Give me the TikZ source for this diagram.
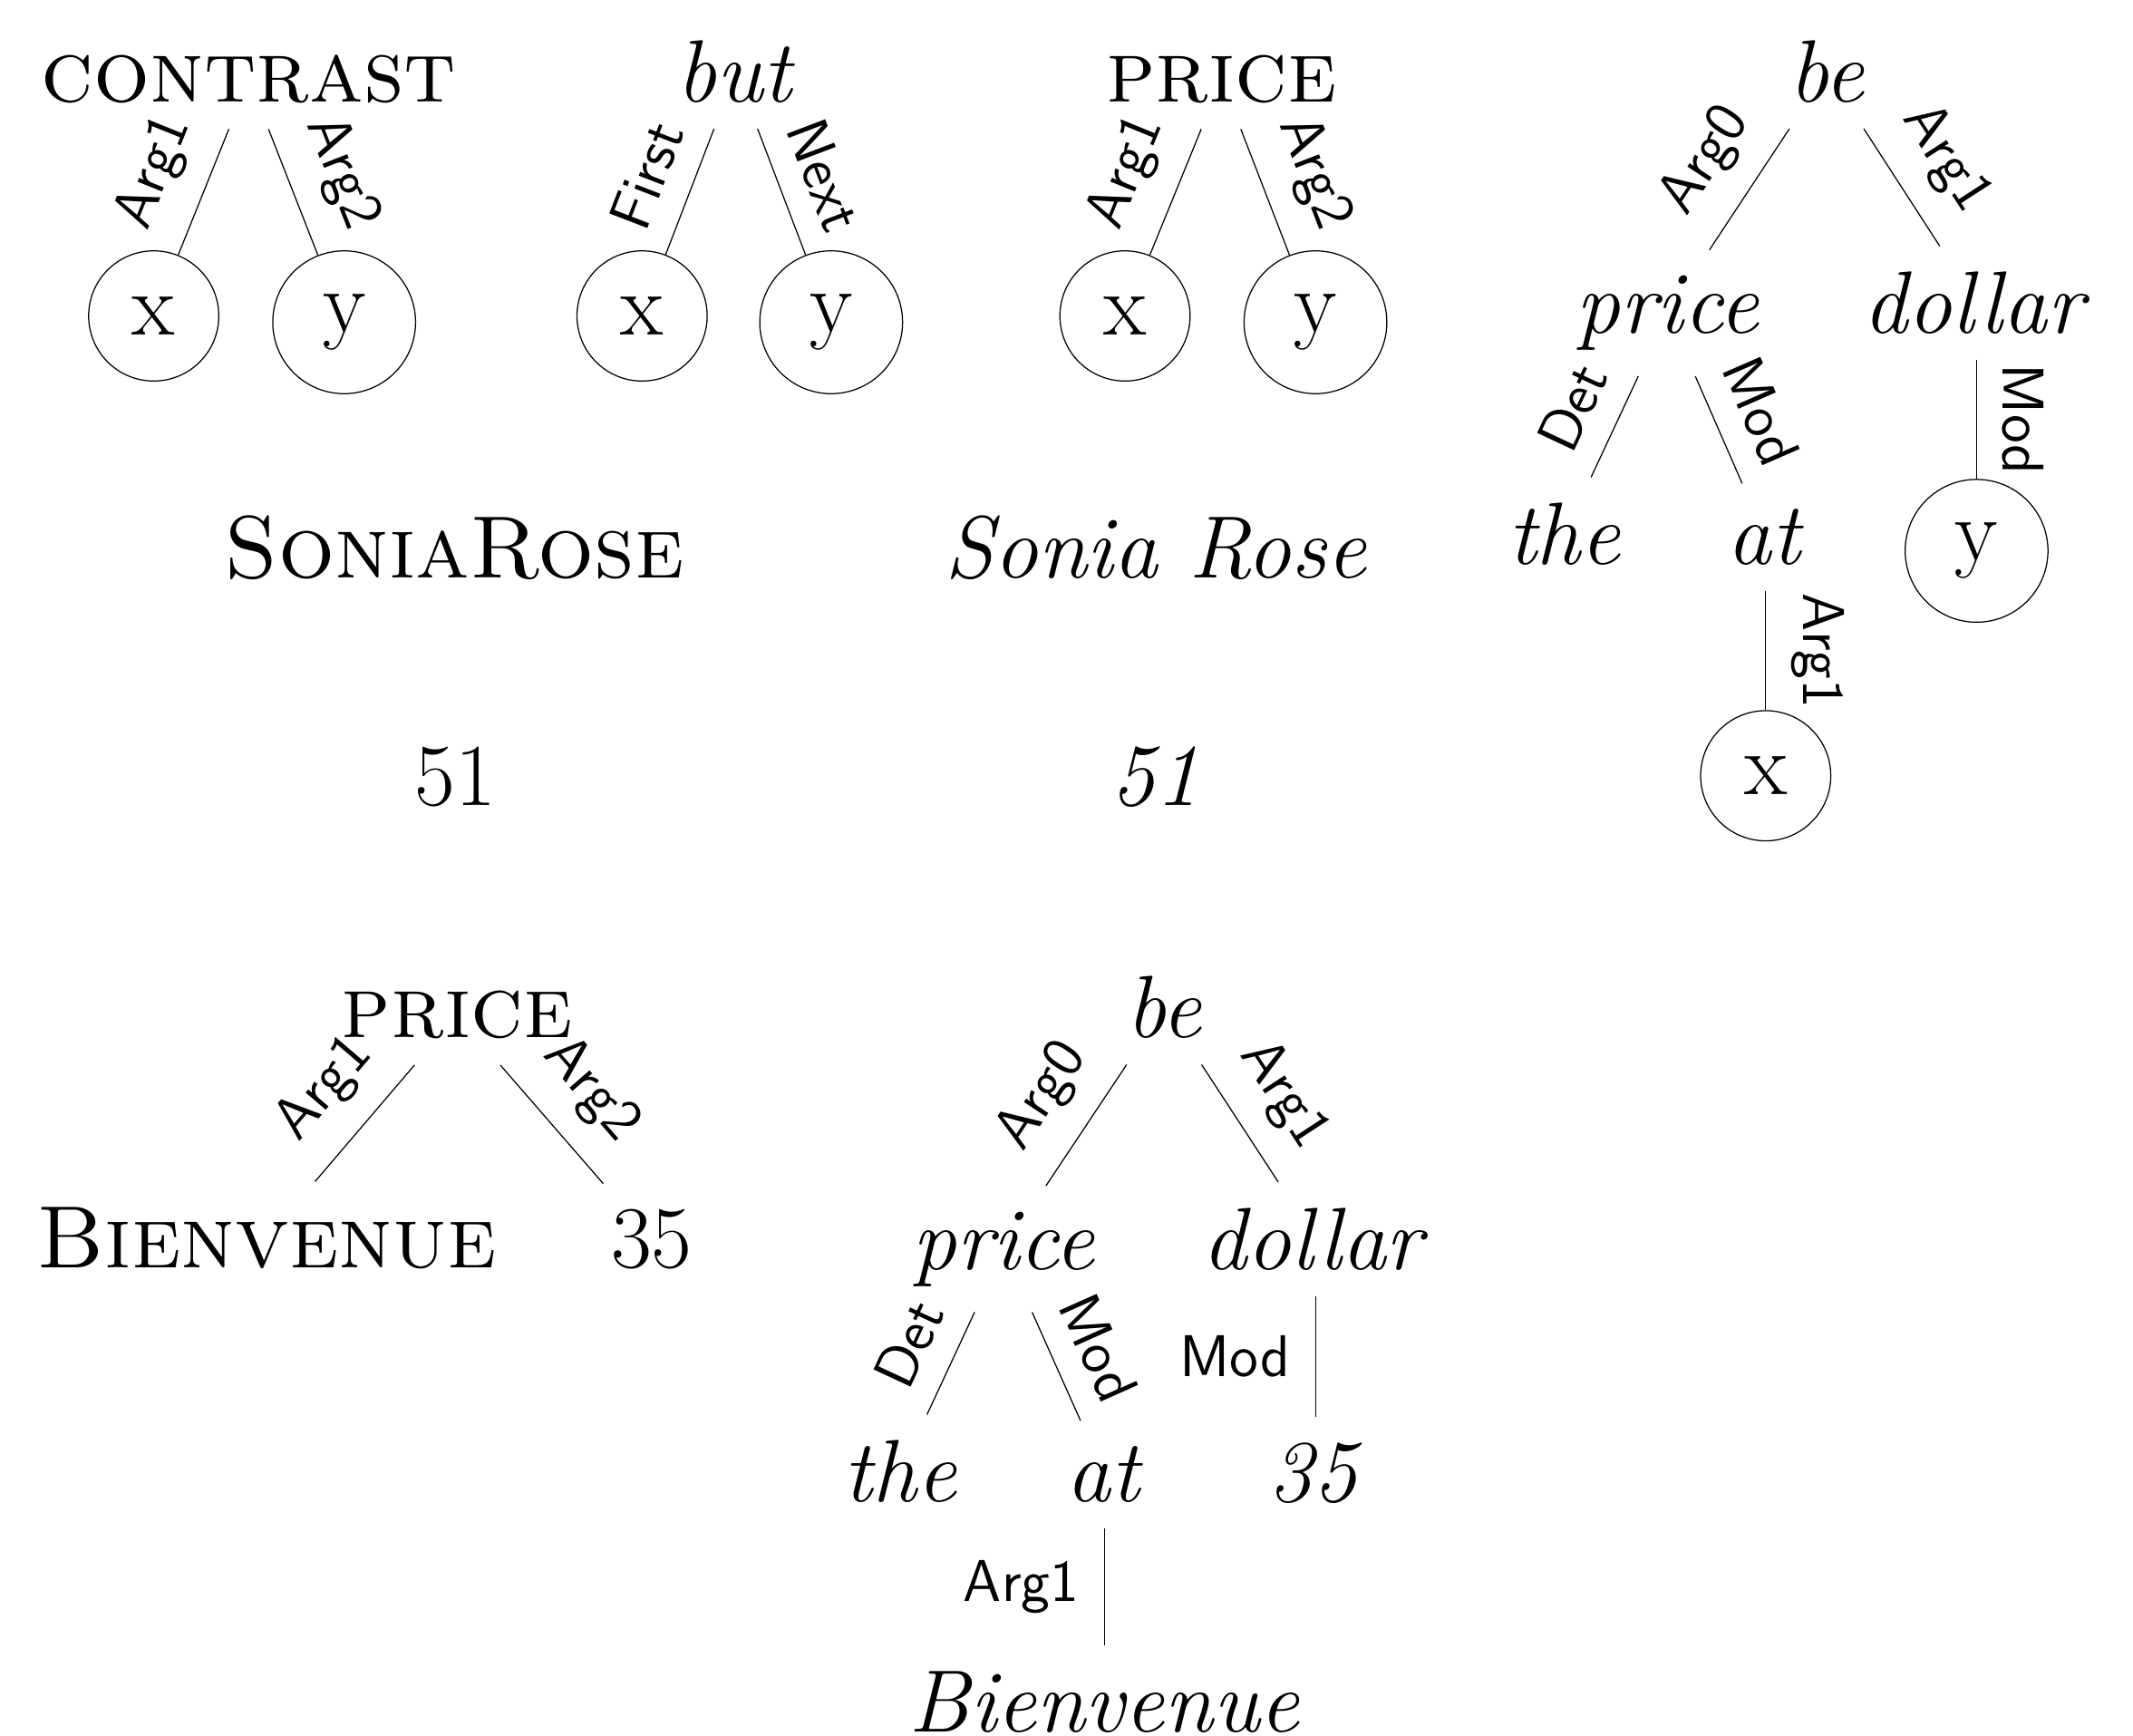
\documentclass[tikz,border=0pt]{standalone}
\usepackage{tikz}

\begin{document}
\begin{tikzpicture}[
x=0.3pt,y=-0.3pt,
word/.style={anchor=base,inner sep=5.5pt,font=\fontsize{19.5}{24}\selectfont},
var/.style={draw,circle,anchor=north,inner sep=5.7pt,line width=0.25pt,font=\fontsize{19.5}{24}\selectfont},
lbl/.style={inner sep=5.5pt,font=\sffamily\fontsize{13}{15}\selectfont},
link/.style={line width=0.25pt}
]
\useasboundingbox (0,0) rectangle (1568,1276);
\node[word] (contrast) at (183,75) {\textsc{contrast}};
\node[var] (cx) at (113,184) {x};
\node[var] (cy) at (253,184) {y};
\draw[link] (contrast) -- node[lbl,sloped,above] {Arg1} (cx);
\draw[link] (contrast) -- node[lbl,sloped,above] {Arg2} (cy);
\node[word] (but) at (541,75) {\textit{but}};
\node[var] (bx) at (472,184) {x};
\node[var] (by) at (611,184) {y};
\draw[link] (but) -- node[lbl,sloped,above] {First} (bx);
\draw[link] (but) -- node[lbl,sloped,above] {Next} (by);
\node[word] (pricetop) at (898,75) {\textsc{price}};
\node[var] (px) at (827,184) {x};
\node[var] (py) at (967,184) {y};
\draw[link] (pricetop) -- node[lbl,sloped,above] {Arg1} (px);
\draw[link] (pricetop) -- node[lbl,sloped,above] {Arg2} (py);
\node[word] (beA) at (1343,75) {\textit{be}};
\node[word] (priceA) at (1226,245) {\textit{price}};
\node[word] (dollarA) at (1453,245) {\textit{dollar}};
\node[word] (theA) at (1150,415) {\textit{the}};
\node[word] (atA) at (1298,415) {\textit{at}};
\node[var] (yA) at (1453,352) {y};
\node[var] (xA) at (1298,522) {x};
\draw[link] (beA) -- node[lbl,sloped,above] {Arg0} (priceA);
\draw[link] (beA) -- node[lbl,sloped,above] {Arg1} (dollarA);
\draw[link] (priceA) -- node[lbl,sloped,above] {Det} (theA);
\draw[link] (priceA) -- node[lbl,sloped,above] {Mod} (atA);
\draw[link] (dollarA) -- node[lbl,sloped,above] {Mod} (yA);
\draw[link] (atA) -- node[lbl,sloped,above] {Arg1} (xA);
\node[word] (namesc) at (334,425) {\textsc{SoniaRose}};
\node[word] (nameit) at (850,425) {\textit{Sonia Rose}};
\node[word] (num) at (335,592) {51};
\node[word] (numit) at (849,592) {\textit{51}};
\node[word] (pricebot) at (336,763) {\textsc{price}};
\node[word] (biensc) at (196,932) {\textsc{Bienvenue}};
\node[word] (thirtyfive) at (479,932) {35};
\draw[link] (pricebot) -- node[lbl,sloped,above] {Arg1} (biensc);
\draw[link] (pricebot) -- node[lbl,sloped,above] {Arg2} (thirtyfive);
\node[word] (beB) at (856,763) {\textit{be}};
\node[word] (priceB) at (738,933) {\textit{price}};
\node[word] (dollarB) at (967,933) {\textit{dollar}};
\node[word] (theB) at (662,1104) {\textit{the}};
\node[word] (atB) at (812,1104) {\textit{at}};
\node[word] (numB) at (967,1104) {\textit{35}};
\node[word] (bienB) at (812,1273) {\textit{Bienvenue}};
\draw[link] (beB) -- node[lbl,sloped,above] {Arg0} (priceB);
\draw[link] (beB) -- node[lbl,sloped,above] {Arg1} (dollarB);
\draw[link] (priceB) -- node[lbl,sloped,above] {Det} (theB);
\draw[link] (priceB) -- node[lbl,sloped,above] {Mod} (atB);
\draw[link] (dollarB) -- node[lbl,left] {Mod} (numB);
\draw[link] (atB) -- node[lbl,left] {Arg1} (bienB);
\end{tikzpicture}
\end{document}
